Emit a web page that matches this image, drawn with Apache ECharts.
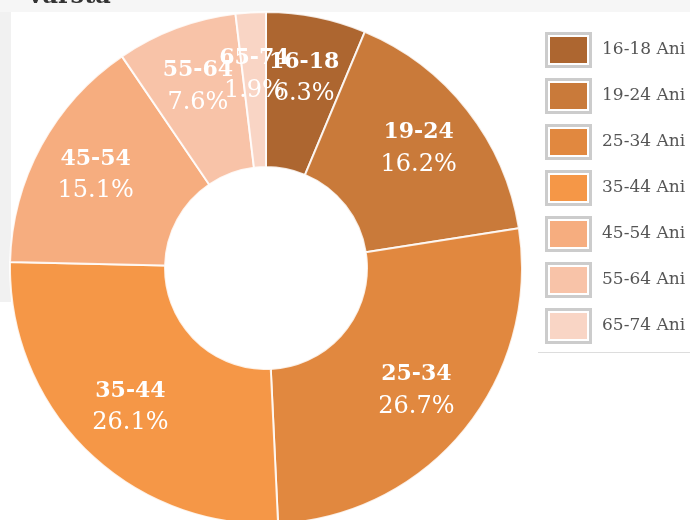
<!DOCTYPE html>
<html>
<head>
<meta charset="utf-8">
<script src="https://cdn.jsdelivr.net/npm/echarts@6/dist/echarts.min.js"></script>
<style>
    html, body { margin: 0; padding: 0; background: #fff; }
    #chart { width: 690px; height: 520px; }
</style>
</head>
<body>
<div id="chart"></div>
<script>
var ageGroups = ['16-18', '19-24', '25-34', '35-44', '45-54', '55-64', '65-74'];
var shares = [6.3, 16.2, 26.7, 26.1, 15.1, 7.6, 1.9];
var sliceColors = ['#ad6630', '#c97a3a', '#e1883f', '#f59747', '#f6ad7f', '#f8c3a8', '#f9d5c5'];

var serif = 'DejaVu Serif';

var pieData = [];
for (var i = 0; i < ageGroups.length; i++) {
    pieData.push({name: ageGroups[i], value: shares[i], itemStyle: {color: sliceColors[i]}});
}

// three stacked legends: grey frame, white gap, coloured box + text
function legendLayer(left, top, w, h, gap, color, withText) {
    return {
        orient: 'vertical',
        left: left,
        top: top,
        padding: 0,
        itemWidth: w,
        itemHeight: h,
        itemGap: gap,
        icon: 'rect',
        selectedMode: false,
        data: ageGroups,
        itemStyle: color ? {color: color, borderWidth: 0} : {borderWidth: 0},
        formatter: function (name) {
            return withText ? name + ' Ani' : '';
        },
        textStyle: {
            fontFamily: serif,
            fontSize: 17,
            color: '#555',
            padding: [0, 0, 0, 10]
        }
    };
}

var option = {
    backgroundColor: '#fff',
    animation: false,
    title: {
        text: 'Vârsta',
        left: 21,
        top: -20,
        z: 10,
        textStyle: {fontFamily: serif, fontWeight: 'bold', fontSize: 24, color: '#333'}
    },
    graphic: [
        {type: 'rect', z: -1, shape: {x: 0, y: 0, width: 690, height: 12}, style: {fill: '#f6f6f6'}},
        {type: 'rect', z: -1, shape: {x: 0, y: 12, width: 11, height: 290}, style: {fill: '#f1f1f1'}},
        {type: 'line', shape: {x1: 538, y1: 352.5, x2: 690, y2: 352.5}, style: {stroke: '#ddd', lineWidth: 1}}
    ],
    legend: [
        legendLayer(545, 32, 47, 36, 10, '#ccc', false),
        legendLayer(548, 35, 41, 30, 16, '#fff', false),
        legendLayer(550, 37, 37, 26, 20, null, true)
    ],
    series: [
        {
            name: 'Vârsta',
            type: 'pie',
            center: [266, 268],
            radius: [101, 256],
            startAngle: 90,
            clockwise: true,
            silent: true,
            itemStyle: {borderColor: 'rgba(255,255,255,0.85)', borderWidth: 2},
            label: {show: false},
            labelLine: {show: false},
            emphasis: {disabled: true},
            data: pieData
        },
        {
            name: 'labels',
            type: 'pie',
            center: [266, 268],
            radius: [126, 256],
            startAngle: 90,
            clockwise: true,
            silent: true,
            avoidLabelOverlap: false,
            minShowLabelAngle: 0,
            itemStyle: {color: 'rgba(0,0,0,0)', borderWidth: 0},
            label: {
                show: true,
                position: 'inside',
                formatter: function (p) {
                    return '{n|' + p.name + '}\n{p|' + p.value.toFixed(1) + '%}';
                },
                rich: {
                    n: {fontFamily: serif, fontWeight: 'bold', fontSize: 22, color: '#fff', lineHeight: 32},
                    p: {fontFamily: serif, fontSize: 24, color: '#fff', lineHeight: 32}
                }
            },
            labelLayout: {hideOverlap: false},
            labelLine: {show: false},
            emphasis: {disabled: true},
            data: ageGroups.map(function (g, k) { return {name: g, value: shares[k]}; })
        }
    ]
};

var chart = echarts.init(document.getElementById('chart'));
chart.setOption(option);
</script>
</body>
</html>
